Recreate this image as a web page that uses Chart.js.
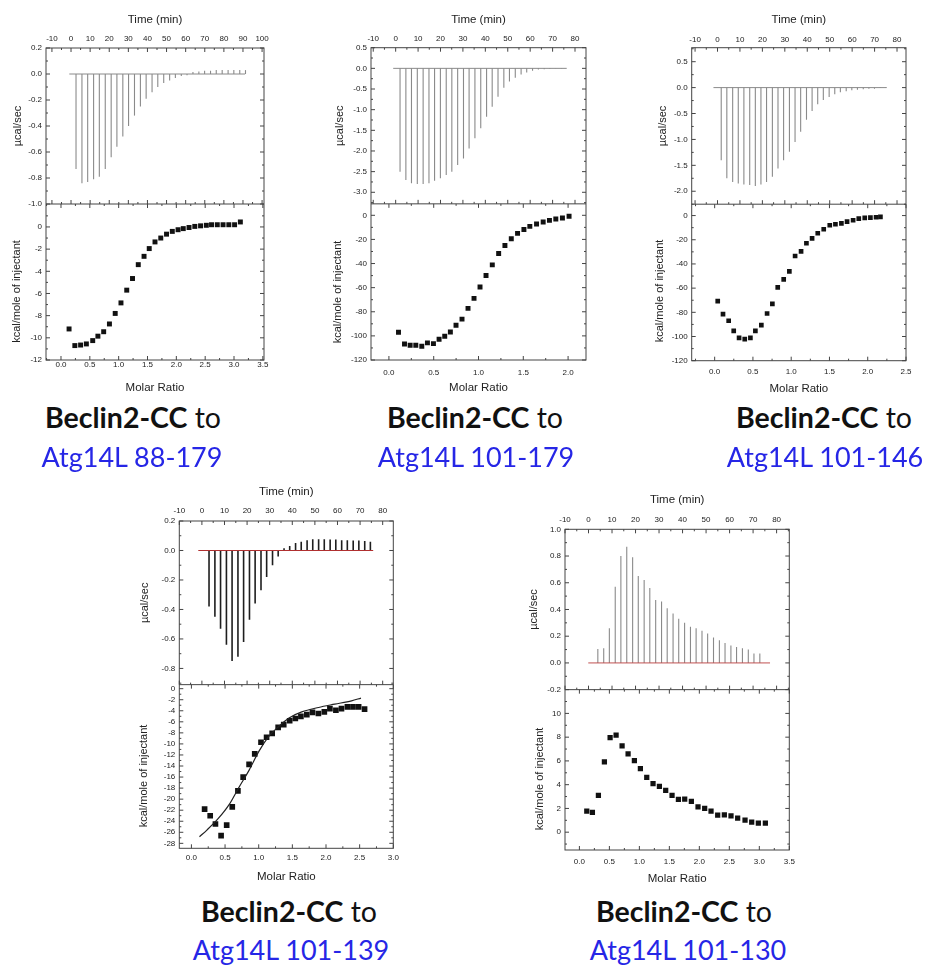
<!DOCTYPE html>
<html>
<head>
<meta charset="utf-8">
<title>Beclin2-CC / Atg14L ITC</title>
<script src="https://cdn.jsdelivr.net/npm/chart.js@4.4.1/dist/chart.umd.min.js"></script>
<style>
  body { margin: 0; background: #fff; }
  #page { position: relative; width: 927px; height: 975px; overflow: hidden; background: #fff; }
  #page canvas { position: absolute; }
  .cap { position: absolute; width: 300px; text-align: center; font-family: Lato, "Open Sans", sans-serif;
         font-size: 27px; line-height: 33px; white-space: nowrap; color: #111; }
  .cap.name { font-size: 28.5px; }
  .cap b { font-weight: 700; }
  .cap.blue { color: #2626e6; }
</style>
</head>
<body>
<div id="page">
  <canvas id="itc1"></canvas>
  <canvas id="itc2"></canvas>
  <canvas id="itc3"></canvas>
  <canvas id="itc4"></canvas>
  <canvas id="itc5"></canvas>

  <div class="cap name" style="left:-17px;top:401px"><b>Beclin2-CC</b> to</div>
  <div class="cap blue" style="left:-18px;top:440px">Atg14L 88-179</div>
  <div class="cap name" style="left:325px;top:401px"><b>Beclin2-CC</b> to</div>
  <div class="cap blue" style="left:326px;top:440px">Atg14L 101-179</div>
  <div class="cap name" style="left:674px;top:401px"><b>Beclin2-CC</b> to</div>
  <div class="cap blue" style="left:675px;top:440px">Atg14L 101-146</div>
  <div class="cap name" style="left:139px;top:895px"><b>Beclin2-CC</b> to</div>
  <div class="cap blue" style="left:141px;top:933px">Atg14L 101-139</div>
  <div class="cap name" style="left:534px;top:895px"><b>Beclin2-CC</b> to</div>
  <div class="cap blue" style="left:538px;top:933px">Atg14L 101-130</div>
</div>
<script>
// ---------- Atg14L 88-179 ----------
const p1InjTime = [2.9, 6.0, 9.0, 12.1, 15.1, 18.2, 21.3, 24.3, 27.4, 30.4, 33.5, 36.6, 39.6, 42.7, 45.7,
  48.8, 51.9, 54.9, 58.0, 61.0, 64.1, 67.2, 70.2, 73.3, 76.3, 79.4, 82.5, 85.5, 88.6, 91.6];
const p1InjPeak = [-0.73, -0.84, -0.83, -0.81, -0.79, -0.73, -0.64, -0.56, -0.48, -0.40, -0.32, -0.25, -0.19, -0.14, -0.10,
  -0.07, -0.05, -0.03, -0.015, -0.01, 0.015, 0.02, 0.025, 0.025, 0.03, 0.03, 0.03, 0.03, 0.03, 0.03];
const p1Baseline = [-0.9, 91.1];
const p1Ratio = [0.14, 0.24, 0.34, 0.44, 0.55, 0.64, 0.74, 0.84, 0.94, 1.04, 1.14, 1.24, 1.34, 1.44, 1.53, 1.63,
  1.73, 1.83, 1.93, 2.03, 2.12, 2.22, 2.32, 2.42, 2.52, 2.61, 2.71, 2.81, 2.91, 3.01, 3.11];
const p1Heat = [-9.2, -10.7, -10.65, -10.55, -10.25, -9.85, -9.45, -8.75, -7.8, -6.85, -5.7, -4.65, -3.4, -2.65, -1.95, -1.35,
  -1.0, -0.65, -0.4, -0.25, -0.15, -0.05, 0.05, 0.1, 0.15, 0.2, 0.2, 0.2, 0.2, 0.2, 0.45];
const p1TimeTicks = [-10, 0, 10, 20, 30, 40, 50, 60, 70, 80, 90, 100];
const p1PowerTicks = [0.2, 0, -0.2, -0.4, -0.6, -0.8, -1.0];
const p1HeatTicks = [0, -2, -4, -6, -8, -10, -12];
const p1RatioTicks = [0, 0.5, 1, 1.5, 2, 2.5, 3, 3.5];

// ---------- Atg14L 101-179 ----------
const p2InjTime = [2.2, 4.8, 7.3, 9.9, 12.5, 15.1, 17.6, 20.2, 22.8, 25.3, 27.9, 30.5, 33.0, 35.6, 38.2,
  40.8, 43.3, 45.9, 48.5, 51.0, 53.6, 56.2, 58.7, 61.3, 63.9, 66.5, 69.0, 71.6, 74.2];
const p2InjPeak = [-2.5, -2.7, -2.78, -2.8, -2.8, -2.78, -2.72, -2.66, -2.58, -2.5, -2.34, -2.18, -1.94, -1.69, -1.45,
  -1.17, -0.93, -0.69, -0.47, -0.32, -0.23, -0.15, -0.1, -0.06, -0.03, -0.02, -0.01, -0.005, -0.005];
const p2Baseline = [-1.1, 76.3];
const p2Ratio = [0.107, 0.174, 0.237, 0.300, 0.367, 0.430, 0.497, 0.560, 0.623, 0.686, 0.749, 0.816, 0.883, 0.950, 1.017,
  1.084, 1.154, 1.225, 1.295, 1.366, 1.436, 1.507, 1.573, 1.648, 1.722, 1.792, 1.863, 1.937, 2.011];
const p2Heat = [-97, -106.7, -107.8, -107.8, -108.6, -105.8, -106.4, -102.8, -100.3, -96.7, -91.1, -86.1, -77.2, -68.9, -59.4,
  -50, -41.1, -31.7, -25, -19.4, -15, -11.7, -9.2, -7.2, -5.6, -4.2, -3.1, -2.2, -0.8];
const p2TimeTicks = [-10, 0, 10, 20, 30, 40, 50, 60, 70, 80];
const p2PowerTicks = [0.5, 0, -0.5, -1.0, -1.5, -2.0, -2.5, -3.0];
const p2HeatTicks = [0, -20, -40, -60, -80, -100, -120];
const p2RatioTicks = [0, 0.5, 1, 1.5, 2];

// ---------- Atg14L 101-146 ----------
const p3InjTime = [1.9, 4.4, 7.0, 9.5, 12.0, 14.6, 17.1, 19.6, 22.1, 24.7, 27.2, 29.7, 32.3, 34.8, 37.3,
  39.9, 42.4, 44.9, 47.4, 50.0, 52.5, 55.0, 57.6, 60.1, 62.6, 65.2, 67.7, 70.2, 72.7, 75.3];
const p3InjPeak = [-1.4, -1.75, -1.82, -1.85, -1.87, -1.88, -1.9, -1.87, -1.82, -1.72, -1.56, -1.4, -1.24, -1.05, -0.85,
  -0.62, -0.45, -0.32, -0.24, -0.18, -0.13, -0.09, -0.07, -0.05, -0.04, -0.03, -0.02, -0.02, -0.01, -0.01];
const p3Baseline = [-1.8, 75.4];
const p3Ratio = [0.040, 0.109, 0.183, 0.249, 0.319, 0.393, 0.467, 0.532, 0.610, 0.685, 0.754, 0.824, 0.902, 0.976, 1.051,
  1.129, 1.199, 1.273, 1.347, 1.425, 1.504, 1.578, 1.656, 1.730, 1.809, 1.883, 1.961, 2.035, 2.109, 2.166];
const p3Heat = [-70.7, -81.5, -87, -95.3, -101.1, -102.2, -101.1, -95.3, -90.6, -81, -73, -59.4, -52.8, -46.1, -33.4,
  -29.6, -22.9, -18.8, -14.6, -11.3, -8, -7.2, -6.4, -5, -3.9, -2.5, -1.9, -1.7, -1.4, -1.1];
const p3TimeTicks = [-10, 0, 10, 20, 30, 40, 50, 60, 70, 80];
const p3PowerTicks = [0.5, 0, -0.5, -1.0, -1.5, -2.0];
const p3HeatTicks = [0, -20, -40, -60, -80, -100, -120];
const p3RatioTicks = [0, 0.5, 1, 1.5, 2, 2.5];

// ---------- Atg14L 101-139 ----------
const p4InjTime = [2.8, 5.4, 7.9, 10.5, 13.0, 15.6, 18.1, 20.7, 23.2, 25.8, 28.3, 30.9, 33.4, 36.0, 38.5,
  41.1, 43.6, 46.2, 48.7, 51.3, 53.8, 56.4, 58.9, 61.5, 64.0, 66.6, 69.1, 71.7, 74.2];
const p4InjPeak = [-0.38, -0.45, -0.53, -0.64, -0.75, -0.72, -0.62, -0.47, -0.36, -0.27, -0.18, -0.1, -0.04, 0.015, 0.03,
  0.05, 0.06, 0.07, 0.077, 0.077, 0.077, 0.075, 0.075, 0.07, 0.07, 0.068, 0.068, 0.065, 0.06];
const p4Baseline = [-1.6, 75.8];
const p4Ratio = [0.196, 0.279, 0.357, 0.441, 0.524, 0.607, 0.691, 0.769, 0.857, 0.941, 1.034, 1.117, 1.200, 1.289, 1.372,
  1.460, 1.544, 1.627, 1.715, 1.799, 1.887, 1.975, 2.058, 2.147, 2.230, 2.318, 2.401, 2.485, 2.573];
const p4Heat = [-21.8, -23, -24.5, -26.6, -24.7, -21.4, -18.5, -16, -13.7, -11.8, -9.7, -8.8, -8.1, -7, -6.5,
  -5.8, -5.4, -5, -4.7, -4.3, -4.5, -4.2, -3.6, -3.9, -3.6, -3.3, -3.3, -3.3, -3.7];
const p4FitRatio = [0.12, 0.23, 0.4, 0.56, 0.7, 0.86, 1.0, 1.15, 1.3, 1.45, 1.64, 1.89, 2.13, 2.38, 2.52];
const p4FitHeat = [-26.8, -25.6, -23.5, -21, -18, -14.7, -11.4, -8.65, -6.8, -5.3, -4.2, -3.4, -2.8, -2.2, -1.7];
const p4TimeTicks = [-10, 0, 10, 20, 30, 40, 50, 60, 70, 80];
const p4PowerTicks = [0.2, 0, -0.2, -0.4, -0.6, -0.8];
const p4HeatTicks = [0, -2, -4, -6, -8, -10, -12, -14, -16, -18, -20, -22, -24, -26, -28];
const p4RatioTicks = [0, 0.5, 1, 1.5, 2, 2.5, 3];

// ---------- Atg14L 101-130 ----------
const p5InjTime = [4.2, 6.7, 9.1, 11.6, 14.0, 16.5, 19.0, 21.4, 23.9, 26.3, 28.8, 31.3, 33.7, 36.2, 38.6,
  41.1, 43.6, 46.0, 48.5, 50.9, 53.4, 55.9, 58.3, 60.8, 63.2, 65.7, 68.2, 70.6, 73.1];
const p5InjPeak = [0.105, 0.11, 0.26, 0.57, 0.8, 0.87, 0.79, 0.65, 0.62, 0.56, 0.47, 0.46, 0.41, 0.37, 0.33,
  0.3, 0.27, 0.26, 0.24, 0.22, 0.19, 0.17, 0.15, 0.13, 0.12, 0.11, 0.1, 0.07, 0.07];
const p5Baseline = [-0.1, 77.2];
const p5Ratio = [0.123, 0.217, 0.317, 0.417, 0.512, 0.612, 0.712, 0.812, 0.917, 1.017, 1.123, 1.228, 1.334, 1.439, 1.545,
  1.651, 1.756, 1.867, 1.978, 2.089, 2.195, 2.306, 2.417, 2.528, 2.639, 2.762, 2.873, 2.984, 3.101];
const p5Heat = [1.77, 1.66, 3.1, 5.92, 7.97, 8.17, 7.27, 6.59, 6.03, 5.35, 4.62, 4.08, 3.86, 3.52, 3.1,
  2.76, 2.79, 2.59, 2.14, 2.0, 1.77, 1.44, 1.46, 1.38, 1.18, 1.01, 0.85, 0.76, 0.76];
const p5TimeTicks = [-10, 0, 10, 20, 30, 40, 50, 60, 70, 80];
const p5PowerTicks = [1.0, 0.8, 0.6, 0.4, 0.2, 0, -0.2];
const p5HeatTicks = [10, 8, 6, 4, 2, 0];
const p5RatioTicks = [0, 0.5, 1, 1.5, 2, 2.5, 3, 3.5];

const FONT = '"Liberation Sans", Arial, sans-serif';
Chart.defaults.font.family = FONT;
Chart.defaults.color = '#222';

const TICK_PX = 8;
const XTITLE_PX = 11.5;
const YTITLE_PX = 11;

const pairs = (xs, ys) => xs.map((x, i) => ({ x, y: ys[i] }));
const useTicks = values => scale => { scale.ticks = values.map(v => ({ value: v })); };
const fmt1 = v => Number(v).toFixed(1);
const fmt0 = v => String(Math.round(v));
const noGrid = { display: false, drawTicks: false };

// frame + Origin-style inward ticks on every side of both layers,
// plus the heat-axis title which sits a little below the layer centre
const itcFrame = {
  id: 'itcFrame',
  afterDraw(chart, args, opts) {
    const { ctx, chartArea: a, scales } = chart;
    const mid = scales.yPower.bottom;
    ctx.save();
    ctx.strokeStyle = '#444';
    ctx.lineWidth = 1;
    ctx.strokeRect(a.left, a.top, a.right - a.left, a.bottom - a.top);
    ctx.beginPath();
    ctx.moveTo(a.left, mid);
    ctx.lineTo(a.right, mid);
    ctx.stroke();

    const marks = scale => {
      const vals = scale.ticks.map(t => t.value).sort((p, q) => p - q);
      const out = vals.map(v => [v, 4]);
      const step = vals[1] - vals[0];
      for (let i = 0; i < vals.length - 1; i++) out.push([(vals[i] + vals[i + 1]) / 2, 2]);
      out.push([vals[0] - step / 2, 2], [vals[vals.length - 1] + step / 2, 2]);
      return out.filter(([v]) => v >= scale.min - 1e-9 && v <= scale.max + 1e-9);
    };
    const hTicks = (scale, y, dir) => {
      for (const [v, len] of marks(scale)) {
        const px = scale.getPixelForValue(v);
        ctx.moveTo(px, y);
        ctx.lineTo(px, y + dir * len);
      }
    };
    const vTicks = (scale, x, dir) => {
      for (const [v, len] of marks(scale)) {
        const py = scale.getPixelForValue(v);
        ctx.moveTo(x, py);
        ctx.lineTo(x + dir * len, py);
      }
    };
    ctx.beginPath();
    hTicks(scales.xTime, a.top, 1);
    hTicks(scales.xTime, mid, -1);
    hTicks(scales.xRatio, a.bottom, -1);
    hTicks(scales.xRatio, mid, 1);
    vTicks(scales.yPower, a.left, 1);
    vTicks(scales.yPower, a.right, -1);
    vTicks(scales.yHeat, a.left, 1);
    vTicks(scales.yHeat, a.right, -1);
    ctx.stroke();

    if (opts.heatTitle) {
      const t = opts.heatTitle;
      ctx.translate(t.x, t.y);
      ctx.rotate(-Math.PI / 2);
      ctx.font = `${YTITLE_PX}px ${FONT}`;
      ctx.fillStyle = '#222';
      ctx.textAlign = 'center';
      ctx.textBaseline = 'middle';
      ctx.fillText(t.text, 0, 0);
    }
    ctx.restore();
  }
};

function drawItc(id, d, g) {
  const canvas = document.getElementById(id);
  canvas.width = g.w;
  canvas.height = g.h;
  canvas.style.left = g.left + 'px';
  canvas.style.top = g.top + 'px';

  const yAxisW = g.L - g.left;
  const topH = g.T - g.top;
  const botH = g.top + g.h - g.B;
  const tickHalf = TICK_PX * 1.2 / 2;

  const datasets = [
    {
      type: 'line',
      data: [{ x: d.baseline[0], y: 0 }, { x: d.baseline[1], y: 0 }],
      xAxisID: 'xTime', yAxisID: 'yPower',
      borderColor: d.baseColor, borderWidth: d.baseWidth, pointRadius: 0
    },
    {
      type: 'bar',
      data: pairs(d.injTime, d.injPeak),
      xAxisID: 'xTime', yAxisID: 'yPower',
      backgroundColor: d.spikeColor, borderWidth: 0, barThickness: d.spikeWidth, inflateAmount: 0
    },
    {
      type: 'scatter',
      data: pairs(d.ratio, d.heat),
      xAxisID: 'xRatio', yAxisID: 'yHeat',
      pointStyle: 'rect', pointRadius: d.dot, backgroundColor: '#111', borderWidth: 0
    }
  ];
  if (d.fitRatio) {
    datasets.unshift({
      type: 'line',
      data: pairs(d.fitRatio, d.fitHeat),
      xAxisID: 'xRatio', yAxisID: 'yHeat',
      borderColor: '#222', borderWidth: 1.2, pointRadius: 0, cubicInterpolationMode: 'monotone'
    });
  }

  new Chart(canvas, {
    type: 'scatter',
    data: { datasets },
    options: {
      responsive: false,
      animation: false,
      devicePixelRatio: 1,
      layout: { padding: { left: 0, top: 0, bottom: 0, right: g.left + g.w - g.R } },
      plugins: {
        legend: { display: false },
        tooltip: { enabled: false },
        itcFrame: { heatTitle: { text: 'kcal/mole of injectant', x: g.heatTitleX - g.left, y: g.heatTitleY - g.top } }
      },
      scales: {
        xTime: {
          type: 'linear', position: 'top', offset: false, min: d.timeRange[0], max: d.timeRange[1],
          grid: noGrid, border: { display: false },
          afterBuildTicks: useTicks(d.timeTicks),
          afterFit: s => { s.height = topH; },
          ticks: { font: { size: TICK_PX }, padding: g.T - g.timeLabY - tickHalf, maxRotation: 0, autoSkip: false, callback: fmt0 },
          title: { display: true, text: 'Time (min)', font: { size: XTITLE_PX },
            padding: { top: g.timeTitleY - g.top - XTITLE_PX * 0.6, bottom: 0 } }
        },
        xRatio: {
          type: 'linear', position: 'bottom', offset: false, min: d.ratioRange[0], max: d.ratioRange[1],
          grid: noGrid, border: { display: false },
          afterBuildTicks: useTicks(d.ratioTicks),
          afterFit: s => { s.height = botH; },
          ticks: { font: { size: TICK_PX }, padding: Math.max(0, g.ratioLabY - g.B - tickHalf), maxRotation: 0, autoSkip: false, callback: fmt1 },
          title: { display: true, text: 'Molar Ratio', font: { size: XTITLE_PX },
            padding: { top: 0, bottom: g.top + g.h - g.ratioTitleY - XTITLE_PX * 0.6 } }
        },
        yPower: {
          type: 'linear', position: 'left', stack: 'itc', stackWeight: 1, weight: 1,
          min: d.powerRange[0], max: d.powerRange[1],
          grid: noGrid, border: { display: false },
          afterBuildTicks: useTicks(d.powerTicks),
          afterFit: s => { s.width = yAxisW; },
          ticks: { font: { size: TICK_PX }, padding: 4, autoSkip: false, callback: fmt1 },
          title: { display: true, text: 'µcal/sec', font: { size: YTITLE_PX },
            padding: { top: g.powTitleX - g.left - YTITLE_PX * 0.6, bottom: 0 } }
        },
        yHeat: {
          type: 'linear', position: 'left', stack: 'itc', stackWeight: 1, weight: 0,
          min: d.heatRange[0], max: d.heatRange[1],
          grid: noGrid, border: { display: false },
          afterBuildTicks: useTicks(d.heatTicks),
          afterFit: s => { s.width = yAxisW; },
          ticks: { font: { size: TICK_PX }, padding: 4, autoSkip: false, callback: fmt0 },
          title: { display: false }
        }
      }
    },
    plugins: [itcFrame]
  });
}

drawItc('itc1', {
  injTime: p1InjTime, injPeak: p1InjPeak, baseline: p1Baseline, ratio: p1Ratio, heat: p1Heat,
  timeTicks: p1TimeTicks, powerTicks: p1PowerTicks, heatTicks: p1HeatTicks, ratioTicks: p1RatioTicks,
  timeRange: [-13.1, 101], powerRange: [-1.0, 0.2], heatRange: [-12, 2.07], ratioRange: [-0.26, 3.52],
  spikeColor: '#8a8a8a', spikeWidth: 1.1, baseColor: '#8a8a8a', baseWidth: 1, dot: 3.5
}, { left: 0, top: 0, w: 300, h: 400, L: 46, T: 48, R: 264, B: 360,
  timeTitleY: 20, timeLabY: 38.3, ratioLabY: 364.3, ratioTitleY: 388.3, powTitleX: 18.3, heatTitleX: 16.7, heatTitleY: 291.5 });

drawItc('itc2', {
  injTime: p2InjTime, injPeak: p2InjPeak, baseline: p2Baseline, ratio: p2Ratio, heat: p2Heat,
  timeTicks: p2TimeTicks, powerTicks: p2PowerTicks, heatTicks: p2HeatTicks, ratioTicks: p2RatioTicks,
  timeRange: [-11, 84.9], powerRange: [-3.28, 0.5], heatRange: [-120, 9.5], ratioRange: [-0.2, 2.2],
  spikeColor: '#8a8a8a', spikeWidth: 1.1, baseColor: '#8a8a8a', baseWidth: 1, dot: 3.5
}, { left: 310, top: 0, w: 300, h: 400, L: 371, T: 47.7, R: 586, B: 360,
  timeTitleY: 20, timeLabY: 38.3, ratioLabY: 372.3, ratioTitleY: 388.3, powTitleX: 340, heatTitleX: 338.3, heatTitleY: 292 });

drawItc('itc3', {
  injTime: p3InjTime, injPeak: p3InjPeak, baseline: p3Baseline, ratio: p3Ratio, heat: p3Heat,
  timeTicks: p3TimeTicks, powerTicks: p3PowerTicks, heatTicks: p3HeatTicks, ratioTicks: p3RatioTicks,
  timeRange: [-11.5, 84], powerRange: [-2.25, 0.77], heatRange: [-120, 9.4], ratioRange: [-0.3, 2.5],
  spikeColor: '#8a8a8a', spikeWidth: 1.1, baseColor: '#8a8a8a', baseWidth: 1, dot: 3.3
}, { left: 630, top: 0, w: 297, h: 400, L: 691.7, T: 47.7, R: 906, B: 360.7,
  timeTitleY: 20, timeLabY: 39.3, ratioLabY: 371.7, ratioTitleY: 389, powTitleX: 663.3, heatTitleX: 660, heatTitleY: 291 });

drawItc('itc4', {
  injTime: p4InjTime, injPeak: p4InjPeak, baseline: p4Baseline, ratio: p4Ratio, heat: p4Heat,
  fitRatio: p4FitRatio, fitHeat: p4FitHeat,
  timeTicks: p4TimeTicks, powerTicks: p4PowerTicks, heatTicks: p4HeatTicks, ratioTicks: p4RatioTicks,
  timeRange: [-10, 84.7], powerRange: [-0.91, 0.2], heatRange: [-28.9, 0.73], ratioRange: [-0.18, 3.0],
  spikeColor: '#1e1e1e', spikeWidth: 1.6, baseColor: '#b03030', baseWidth: 1.2, dot: 4
}, { left: 130, top: 470, w: 290, h: 420, L: 179.3, T: 521, R: 393.3, B: 848.3,
  timeTitleY: 491.7, timeLabY: 510.7, ratioLabY: 857.7, ratioTitleY: 876.7, powTitleX: 145, heatTitleX: 144, heatTitleY: 776 });

drawItc('itc5', {
  injTime: p5InjTime, injPeak: p5InjPeak, baseline: p5Baseline, ratio: p5Ratio, heat: p5Heat,
  timeTicks: p5TimeTicks, powerTicks: p5PowerTicks, heatTicks: p5HeatTicks, ratioTicks: p5RatioTicks,
  timeRange: [-10, 85.4], powerRange: [-0.2, 1.0], heatRange: [-1.5, 12], ratioRange: [-0.24, 3.5],
  spikeColor: '#8a8a8a', spikeWidth: 1.1, baseColor: '#c05050', baseWidth: 1, dot: 3.7
}, { left: 520, top: 470, w: 290, h: 420, L: 565, T: 529.3, R: 789.3, B: 850,
  timeTitleY: 500, timeLabY: 519.3, ratioLabY: 861.7, ratioTitleY: 879.3, powTitleX: 534, heatTitleX: 540, heatTitleY: 779 });
</script>
</body>
</html>
